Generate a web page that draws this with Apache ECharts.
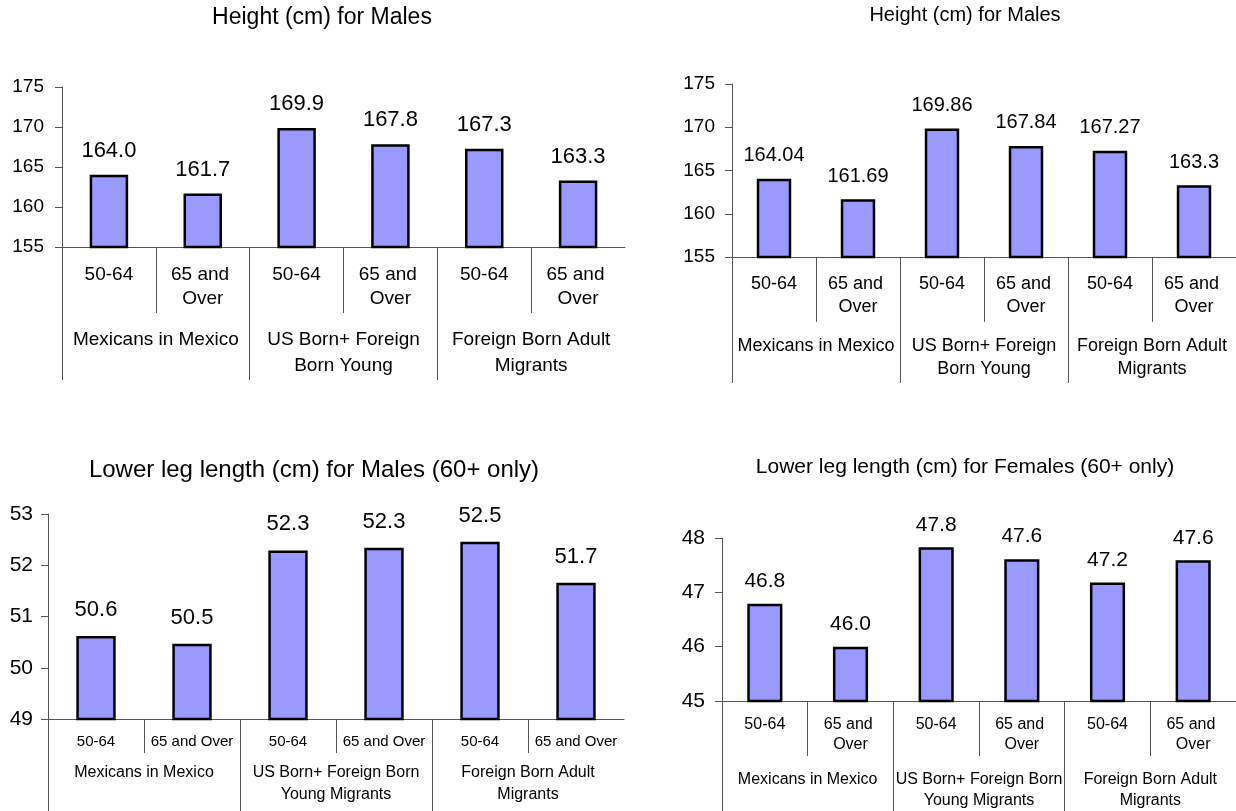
<!DOCTYPE html>
<html>
<head>
<meta charset="utf-8">
<script src="https://cdn.jsdelivr.net/npm/echarts@6/dist/echarts.min.js"></script>
<style>
  html, body { margin: 0; padding: 0; background: #fff; }
  #main { width: 1236px; height: 811px; }
</style>
</head>
<body>
<div id="main"></div>
<script>
// age groups repeated inside each population group
var ageGroups = ['50-64', '65 and Over'];
var heightGroups = ['Mexicans in Mexico', 'US Born+ Foreign\nBorn Young', 'Foreign Born Adult\nMigrants'];
var legGroups = ['Mexicans in Mexico', 'US Born+ Foreign Born\nYoung Migrants', 'Foreign Born Adult\nMigrants'];

// means
var heightMales = [164.04, 161.69, 169.86, 167.84, 167.27, 163.3];
var legMales = [50.62, 50.47, 52.29, 52.34, 52.46, 51.66];
var legFemales = [46.79, 46.0, 47.83, 47.61, 47.18, 47.59];

var FONT = '"Liberation Sans", Arial, sans-serif';
var AXIS = '#555';

var panels = [
  { title: 'Height (cm) for Males', titleX: 317, titleTop: 1, titleSize: 23,
    left: 62, top: 87, width: 563, height: 160, min: 155, max: 175, step: 5, ySize: 19, yMargin: 18,
    values: heightMales, groups: heightGroups, digits: 1, valueSize: 22, valueGap: 13,
    catSize: 19, catLine: 24, catMargin: 16, catWrap: 86,
    groupSize: 19, groupLine: 26, groupMargin: 80, shortTick: 66, longTick: 133 },
  { title: 'Height (cm) for Males', titleX: 960, titleTop: 0, titleSize: 20,
    left: 732, top: 84, width: 504, height: 173, min: 155, max: 175, step: 5, ySize: 19, yMargin: 17,
    values: heightMales, groups: heightGroups, digits: null, valueSize: 20, valueGap: 13,
    catSize: 18, catLine: 23, catMargin: 16, catWrap: 78,
    groupSize: 18, groupLine: 23, groupMargin: 78, shortTick: 65, longTick: 126 },
  { title: 'Lower leg length (cm) for Males (60+ only)', titleX: 309, titleTop: 453, titleSize: 24,
    left: 48, top: 514, width: 576, height: 205, min: 49, max: 53, step: 1, ySize: 21, yMargin: 15,
    values: legMales, groups: legGroups, digits: 1, valueSize: 22, valueGap: 15,
    catSize: 15, catLine: 18, catMargin: 14, catWrap: 0,
    groupSize: 16, groupLine: 22, groupMargin: 43, shortTick: 34, longTick: 100 },
  { title: 'Lower leg length (cm) for Females (60+ only)', titleX: 960, titleTop: 452, titleSize: 21,
    left: 722, top: 538, width: 520, height: 164, min: 45, max: 48, step: 1, ySize: 21, yMargin: 17,
    values: legFemales, groups: legGroups, digits: 1, valueSize: 21, valueGap: 12,
    catSize: 16, catLine: 20, catMargin: 14, catWrap: 78,
    groupSize: 16, groupLine: 21, groupMargin: 68, shortTick: 55, longTick: 110 }
];

function categoriesFor(groups) {
  var out = [];
  groups.forEach(function () {
    ageGroups.forEach(function (a) { out.push(a); });
  });
  return out;
}

var option = {
  animation: false,
  backgroundColor: '#fff',
  textStyle: { fontFamily: FONT },
  title: [], grid: [], xAxis: [], yAxis: [], series: []
};

panels.forEach(function (p, i) {
  option.title.push({
    text: p.title, left: p.titleX, top: p.titleTop, textAlign: 'center',
    textStyle: { fontSize: p.titleSize, fontWeight: 'normal', color: '#000', fontFamily: FONT }
  });
  option.grid.push({ left: p.left, top: p.top, width: p.width, height: p.height, containLabel: false });

  option.yAxis.push({
    type: 'value', gridIndex: i, min: p.min, max: p.max, interval: p.step,
    axisLine: { show: true, onZero: false, lineStyle: { color: AXIS, width: 1 } },
    axisTick: { show: true, length: 7, lineStyle: { color: AXIS } },
    axisLabel: { fontSize: p.ySize, color: '#000', margin: p.yMargin, fontFamily: FONT },
    splitLine: { show: false }
  });

  var catLabel = { interval: 0, fontSize: p.catSize, lineHeight: p.catLine, color: '#000',
                   margin: p.catMargin, fontFamily: FONT };
  if (p.catWrap) { catLabel.width = p.catWrap; catLabel.overflow = 'break'; }

  // row 1: the age groups, base line of the plot
  option.xAxis.push({
    type: 'category', gridIndex: i, position: 'bottom', data: categoriesFor(p.groups),
    axisLine: { show: true, onZero: false, lineStyle: { color: AXIS, width: 1 } },
    axisTick: { show: false },
    axisLabel: catLabel,
    splitLine: { show: false }
  });
  // short separators between age groups
  option.xAxis.push({
    type: 'value', gridIndex: i, position: 'bottom', min: 0, max: 6,
    axisLine: { show: false },
    axisTick: { show: true, customValues: [1, 3, 5], length: p.shortTick, lineStyle: { color: AXIS } },
    axisLabel: { show: false },
    splitLine: { show: false }
  });
  // row 2: population groups with full-height separators
  option.xAxis.push({
    type: 'value', gridIndex: i, position: 'bottom', min: 0, max: 6,
    axisLine: { show: false },
    axisTick: { show: true, customValues: [0, 2, 4], length: p.longTick, lineStyle: { color: AXIS } },
    axisLabel: {
      customValues: [1, 3, 5], margin: p.groupMargin, fontSize: p.groupSize, lineHeight: p.groupLine,
      color: '#000', fontFamily: FONT,
      formatter: (function (groups) {
        return function (v) { return groups[(v - 1) / 2] || ''; };
      })(p.groups)
    },
    splitLine: { show: false }
  });

  option.series.push({
    type: 'bar', xAxisIndex: i * 3, yAxisIndex: i, data: p.values, barWidth: '41%',
    itemStyle: { color: '#9999FF', borderColor: '#000', borderWidth: 2.5 },
    label: {
      show: true, position: 'top', distance: p.valueGap, fontSize: p.valueSize, color: '#000',
      fontFamily: FONT,
      formatter: (function (digits) {
        return function (d) { return digits == null ? String(d.value) : d.value.toFixed(digits); };
      })(p.digits)
    }
  });
});

var chart = echarts.init(document.getElementById('main'));
chart.setOption(option);
</script>
</body>
</html>
